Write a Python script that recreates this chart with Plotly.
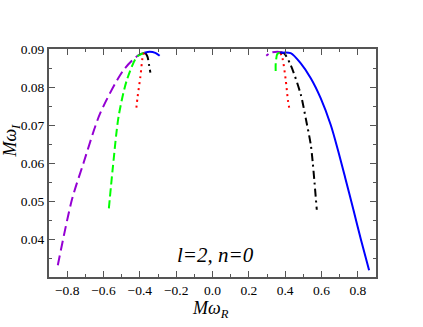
import plotly.graph_objects as go

# ---- data ----
blue_R_x = [0.374, 0.430, 0.486, 0.541, 0.596, 0.651, 0.690, 0.730, 0.775, 0.818, 0.862]
blue_R_y = [0.0890, 0.0889, 0.0862, 0.0823, 0.0770, 0.0700, 0.0635, 0.0562, 0.0478, 0.0397, 0.0318]
blue_L_x = [-0.374, -0.346, -0.315, -0.291]
blue_L_y = [0.0890, 0.0893, 0.0890, 0.0882]

purple_L_x = [-0.374, -0.407, -0.489, -0.618, -0.710, -0.774, -0.857]
purple_L_y = [0.0890, 0.0884, 0.0845, 0.0731, 0.0600, 0.0503, 0.0318]
purple_R_x = [0.385, 0.357, 0.320, 0.296]
purple_R_y = [0.0891, 0.0893, 0.0890, 0.0882]

green_L_x = [-0.374, -0.415, -0.471, -0.517, -0.548, -0.572]
green_L_y = [0.0890, 0.0880, 0.0819, 0.0722, 0.0591, 0.0473]
green_R_x = [0.370, 0.357, 0.348, 0.348]
green_R_y = [0.0890, 0.0887, 0.0862, 0.0838]

black_R_x = [0.374, 0.393, 0.430, 0.486, 0.513, 0.541, 0.552, 0.574]
black_R_y = [0.0890, 0.0889, 0.0858, 0.0780, 0.0718, 0.0648, 0.0600, 0.0477]
black_L_x = [-0.370, -0.358, -0.350, -0.342]
black_L_y = [0.0890, 0.0880, 0.0860, 0.0838]

red_R_x = [0.374, 0.385, 0.403, 0.415, 0.425]
red_R_y = [0.0890, 0.0876, 0.0819, 0.0766, 0.0737]
red_L_x = [-0.374, -0.382, -0.397, -0.412, -0.421]
red_L_y = [0.0890, 0.0884, 0.0827, 0.0775, 0.0737]

x_ticks = [-0.8, -0.6, -0.4, -0.2, 0.0, 0.2, 0.4, 0.6, 0.8]
y_ticks = [0.04, 0.05, 0.06, 0.07, 0.08, 0.09]

label_text = "l=2, n=0"

# ---- figure ----
fig = go.Figure()

def add(xs, ys, color, dash):
    fig.add_trace(go.Scatter(x=xs, y=ys, mode="lines",
                             line=dict(color=color, width=2, dash=dash, shape="spline", smoothing=0.8),
                             showlegend=False, hoverinfo="skip"))

add(purple_L_x, purple_L_y, "#9400D3", "10px,5px")
add(purple_R_x, purple_R_y, "#9400D3", "10px,5px")
add(green_L_x, green_L_y, "#00FF00", "8px,4px")
add(green_R_x, green_R_y, "#00FF00", "8px,4px")
add(red_L_x, red_L_y, "#FF0000", "2px,4px")
add(red_R_x, red_R_y, "#FF0000", "2px,4px")
add(black_L_x, black_L_y, "#000000", "8px,4px,2px,4px")
add(black_R_x, black_R_y, "#000000", "8px,4px,2px,4px")
add(blue_L_x, blue_L_y, "#0000FF", "solid")
add(blue_R_x, blue_R_y, "#0000FF", "solid")

axis_common = dict(showline=True, linecolor="#555555", linewidth=2, mirror="allticks",
                   ticks="inside", ticklen=6, tickwidth=1, tickcolor="#555555",
                   showgrid=False, zeroline=False,
                   tickfont=dict(family="Liberation Serif", size=13.5, color="black"))

fig.update_xaxes(range=[-0.9, 0.9], tickvals=x_ticks, tickformat=".1f",
                 minor=dict(ticks="inside", ticklen=3, dtick=0.1, tick0=0, tickcolor="#555555"),
                 **axis_common)
fig.update_yaxes(range=[0.03, 0.09], tickvals=y_ticks, tickformat=".2f",
                 minor=dict(ticks="inside", ticklen=3, dtick=0.005, tick0=0, tickcolor="#555555"),
                 **axis_common)

fig.add_annotation(text="<i>" + label_text + "</i>", x=0.017, y=0.0359, xref="x", yref="y",
                   showarrow=False, font=dict(family="Liberation Serif", size=21, color="black"))
fig.add_annotation(text="<i>Mω<sub>R</sub></i>", x=0.495, y=-0.142, xref="paper", yref="paper",
                   xanchor="center", yanchor="middle",
                   showarrow=False, font=dict(family="Liberation Serif", size=18, color="black"))
fig.add_annotation(text="<i>Mω<sub>I</sub></i>", x=-0.115, y=0.6, xref="paper", yref="paper",
                   xanchor="center", yanchor="middle",
                   textangle=-90, showarrow=False,
                   font=dict(family="Liberation Serif", size=18, color="black"))

fig.update_layout(width=423, height=327, margin=dict(l=49, r=47, t=49, b=50),
                  paper_bgcolor="white", plot_bgcolor="white")

fig.write_html("out.html", config={"displayModeBar": False},
               post_script="document.body.style.margin='0';")
